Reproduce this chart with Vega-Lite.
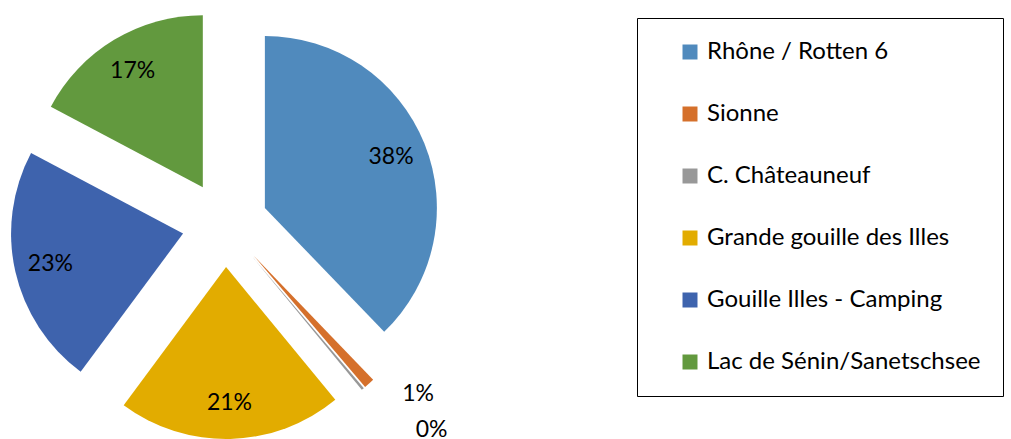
{
  "$schema": "https://vega.github.io/schema/vega-lite/v6.json",
  "width": 450,
  "height": 430,
  "autosize": {"type": "none"},
  "padding": {"left": 0, "top": 9, "right": 561, "bottom": 0},
  "background": "white",
  "config": {"view": {"stroke": null}, "font": "Lato"},
  "data": {
    "values": [
      {"k": 0, "name": "Rhône / Rotten 6", "value": 0.378},
      {"k": 1, "name": "Sionne", "value": 0.010},
      {"k": 2, "name": "C. Châteauneuf", "value": 0.0025},
      {"k": 3, "name": "Grande gouille des Illes", "value": 0.211},
      {"k": 4, "name": "Gouille Illes - Camping", "value": 0.226},
      {"k": 5, "name": "Lac de Sénin/Sanetschsee", "value": 0.1725}
    ]
  },
  "encoding": {
    "theta": {"field": "value", "type": "quantitative", "stack": true},
    "order": {"field": "k", "type": "quantitative"}
  },
  "layer": [
    {
      "mark": {
        "type": "arc",
        "outerRadius": 172,
        "xOffset": {"expr": "43*sin((scale('theta', datum.value_start) + scale('theta', datum.value_end))/2)"},
        "yOffset": {"expr": "-43*cos((scale('theta', datum.value_start) + scale('theta', datum.value_end))/2)"}
      },
      "encoding": {
        "color": {
          "field": "name",
          "type": "nominal",
          "scale": {
            "domain": ["Rhône / Rotten 6", "Sionne", "C. Châteauneuf", "Grande gouille des Illes", "Gouille Illes - Camping", "Lac de Sénin/Sanetschsee"],
            "range": ["#508ABD", "#D5702B", "#989898", "#E2AC00", "#3E63AD", "#62993E"]
          },
          "legend": {
            "title": null,
            "orient": "none",
            "legendX": 637,
            "legendY": 9,
            "padding": 22,
            "symbolOffset": 19,
            "strokeColor": "#000000",
            "symbolType": "square",
            "symbolSize": 225,
            "symbolStrokeWidth": 0,
            "labelFontSize": 24,
            "labelFont": "Lato",
            "labelColor": "#000000",
            "labelOffset": 5,
            "labelLimit": 400,
            "rowPadding": 38
          }
        }
      }
    },
    {
      "mark": {
        "type": "text",
        "fontSize": 23,
        "font": "Lato",
        "color": "#000000",
        "radius": {"expr": "datum.value < 0.005 ? 292 : datum.value < 0.05 ? 257 : 179"},
        "thetaOffset": {"expr": "datum.value < 0.005 ? -0.09 : datum.value < 0.05 ? -0.115 : 0"}
      },
      "encoding": {
        "text": {"field": "value", "type": "quantitative", "format": ".0%"}
      }
    }
  ]
}
